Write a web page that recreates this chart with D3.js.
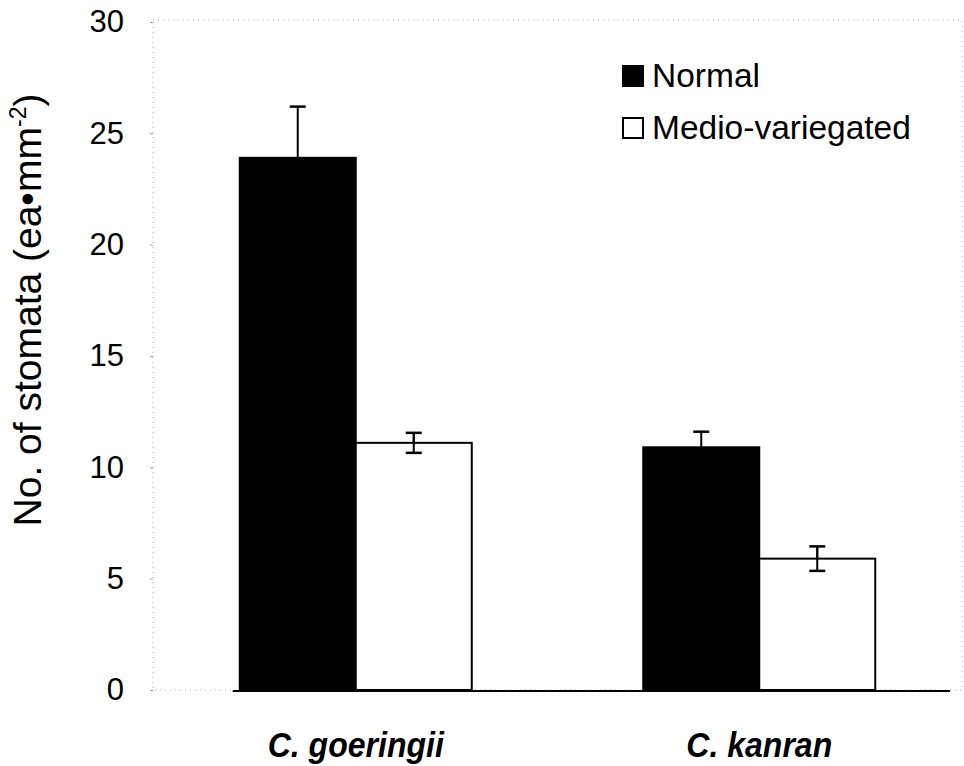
<!DOCTYPE html>
<html>
<head>
<meta charset="utf-8">
<script src="https://cdn.jsdelivr.net/npm/d3@7"></script>
<style>
  body { margin: 0; background: #fff; }
  text { font-family: "Liberation Sans", Arial, sans-serif; fill: #000; }
</style>
</head>
<body>
<div id="container"></div>
<script>
// chart data
const categories = ["C. goeringii", "C. kanran"];
const seriesNames = ["Normal", "Medio-variegated"];
const normalValues = [23.9, 10.9];
const normalErrors = [2.3, 0.7];
const medioValues = [11.1, 5.9];
const medioErrors = [0.45, 0.55];
const yTicks = [0, 5, 10, 15, 20, 25, 30];

const width = 964, height = 766;
const plotLeft = 153, plotRight = 962, plotTop = 22, plotBottom = 690;

const svg = d3.select("#container")
  .append("svg")
  .attr("width", width)
  .attr("height", height);

const y = d3.scaleLinear().domain([0, 30]).range([plotBottom, plotTop]);

const x = d3.scaleBand()
  .domain(categories)
  .range([plotLeft, plotRight])
  .paddingInner(0.425)
  .paddingOuter(0.215);

const xs = d3.scaleBand()
  .domain(seriesNames)
  .range([0, x.bandwidth()]);

const fills = { "Normal": "#000", "Medio-variegated": "#fff" };

// rows built from the arrays
const rows = [];
categories.forEach((c, i) => {
  rows.push({ cat: c, series: "Normal", value: normalValues[i], err: normalErrors[i] });
  rows.push({ cat: c, series: "Medio-variegated", value: medioValues[i], err: medioErrors[i] });
});

// faint frame left from the scan
svg.append("rect")
  .attr("x", plotLeft)
  .attr("y", y(30) - 2)
  .attr("width", plotRight - plotLeft)
  .attr("height", y(0) - y(30) + 2)
  .attr("fill", "none")
  .attr("stroke", "#aaa")
  .attr("stroke-width", 1)
  .attr("stroke-dasharray", "1,4");

// y axis tick labels
const yAxis = svg.append("g")
  .attr("transform", "translate(" + plotLeft + ",0)")
  .call(d3.axisLeft(y).tickValues(yTicks).tickSize(3).tickPadding(26));
yAxis.select(".domain").remove();
yAxis.selectAll(".tick line").attr("stroke", "#999");
yAxis.selectAll(".tick text")
  .style("font-family", "'Liberation Sans', Arial, sans-serif")
  .style("font-size", "31px")
  .attr("fill", "#000");

// error bars (drawn first so black bars cover the lower half)
const capW = 8;
const eb = svg.append("g").selectAll("g").data(rows).join("g")
  .attr("transform", d => "translate(" + (x(d.cat) + xs(d.series) + xs.bandwidth() / 2) + ",0)");
eb.append("line")
  .attr("y1", d => y(d.value + d.err))
  .attr("y2", d => y(d.value - d.err))
  .attr("stroke", "#000").attr("stroke-width", 2);
eb.append("line")
  .attr("x1", -capW).attr("x2", capW)
  .attr("y1", d => y(d.value + d.err)).attr("y2", d => y(d.value + d.err))
  .attr("stroke", "#000").attr("stroke-width", 2.5);

// bars
svg.append("g").selectAll("rect").data(rows).join("rect")
  .attr("x", d => x(d.cat) + xs(d.series))
  .attr("y", d => y(d.value))
  .attr("width", xs.bandwidth())
  .attr("height", d => y(0) - y(d.value))
  .attr("fill", d => fills[d.series])
  .attr("stroke", "#000")
  .attr("stroke-width", 2);

// white bars: redraw the stem inside + lower cap on top
const ebTop = svg.append("g").selectAll("g").data(rows.filter(d => d.series !== "Normal")).join("g")
  .attr("transform", d => "translate(" + (x(d.cat) + xs(d.series) + xs.bandwidth() / 2) + ",0)");
ebTop.append("line")
  .attr("y1", d => y(d.value + d.err))
  .attr("y2", d => y(d.value - d.err))
  .attr("stroke", "#000").attr("stroke-width", 2);
ebTop.append("line")
  .attr("x1", -capW).attr("x2", capW)
  .attr("y1", d => y(d.value - d.err)).attr("y2", d => y(d.value - d.err))
  .attr("stroke", "#000").attr("stroke-width", 2.5);

// baseline
svg.append("line")
  .attr("x1", x(categories[0]) - 7)
  .attr("x2", plotRight - 12)
  .attr("y1", y(0) + 1).attr("y2", y(0) + 1)
  .attr("stroke", "#000")
  .attr("stroke-width", 2);

// category labels (condensed bold italic)
svg.append("g").selectAll("text").data(categories).join("text")
  .attr("transform", d => "translate(" + (x(d) + x.bandwidth() / 2) + ",757) scale(0.89,1)")
  .attr("text-anchor", "middle")
  .style("font-size", "36px")
  .style("font-weight", "bold")
  .style("font-style", "italic")
  .text(d => d);

// y axis title
const yt = svg.append("text")
  .attr("transform", "translate(41,310) rotate(-90)")
  .attr("text-anchor", "middle")
  .style("font-size", "39px");
yt.append("tspan").text("No. of stomata (ea\u2022mm");
yt.append("tspan").attr("dy", -15).style("font-size", "23px").text("-2");
yt.append("tspan").attr("dy", 15).text(")");

// legend
const legend = svg.append("g").selectAll("g").data(seriesNames).join("g")
  .attr("transform", (d, i) => "translate(623," + (66 + i * 52) + ")");
legend.append("rect")
  .attr("width", 20).attr("height", 20)
  .attr("fill", d => fills[d])
  .attr("stroke", "#000").attr("stroke-width", 2);
legend.append("text")
  .attr("x", 29).attr("y", 21)
  .style("font-size", "33.5px")
  .text(d => d);
</script>
</body>
</html>
